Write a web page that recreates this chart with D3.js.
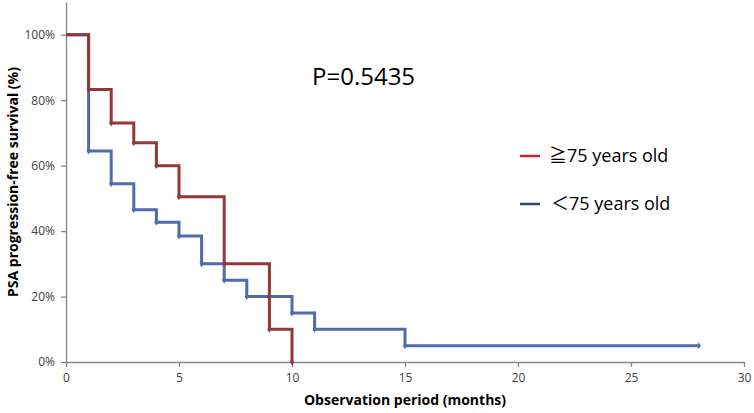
<!DOCTYPE html>
<html><head><meta charset="utf-8">
<script src="https://cdn.jsdelivr.net/npm/d3@7"></script>
<style>body{margin:0;background:#fff}svg{display:block}</style>
</head><body>
<svg id="c" width="754" height="413"></svg>
<script>
const xTicks = [0, 5, 10, 15, 20, 25, 30];
const yTicks = [0, 0.2, 0.4, 0.6, 0.8, 1.0];
const seriesSymbols = ["≧", "＜"];
const seriesNames = ["75 years old", "75 years old"];
// step points: [month, survival]
const oldTimes = [0, 1, 2, 3, 4, 5, 7, 9, 10];
const oldSurv  = [1.0, 0.833, 0.73, 0.67, 0.60, 0.505, 0.30, 0.10, 0.0];
const youngTimes = [0, 1, 2, 3, 4, 5, 6, 7, 8, 10, 11, 15, 28];
const youngSurv  = [1.0, 0.645, 0.545, 0.465, 0.427, 0.385, 0.30, 0.25, 0.20, 0.15, 0.10, 0.05, 0.05];
const pText = "P=0.5435";

const svg = d3.select("#c");
const m = {l: 66, r: 744, t: 2, b: 362};
const x = d3.scaleLinear().domain([0, 30]).range([m.l, m.r]);
const y = d3.scaleLinear().domain([0, 1.1]).range([m.b, m.t]);
const font = "'Open Sans', 'Liberation Sans', sans-serif";
const cjk = "'Noto Sans CJK JP', sans-serif";
const axisColor = "#868686";

// axes
const gx = svg.append("g").attr("transform", `translate(0,${m.b})`)
  .call(d3.axisBottom(x).tickValues(xTicks).tickSize(5).tickSizeOuter(0).tickPadding(6));
const gy = svg.append("g").attr("transform", `translate(${m.l},0)`)
  .call(d3.axisLeft(y).tickValues(yTicks).tickSize(5).tickSizeOuter(0).tickPadding(6)
    .tickFormat(d => Math.round(d * 100) + "%"));
[gx, gy].forEach(g => {
  g.select(".domain").attr("stroke", axisColor).attr("stroke-width", 1.3);
  g.selectAll(".tick line").attr("stroke", axisColor).attr("stroke-width", 1.3);
  g.selectAll(".tick text").attr("fill", "#404040").style("font-family", font).style("font-size", "12px");
});

function toPts(ts, ss) { return ts.map((t, i) => [t, ss[i]]); }
const line = d3.line().x(d => x(d[0])).y(d => y(d[1])).curve(d3.curveStepAfter);

const series = [
  {pts: toPts(youngTimes, youngSurv), color: "#4F6BAE"},
  {pts: toPts(oldTimes, oldSurv), color: "#953735"}
];
series.forEach(s => {
  svg.append("path").attr("d", line(s.pts)).attr("fill", "none")
    .attr("stroke", s.color).attr("stroke-width", 3);
  svg.selectAll(null).data(s.pts.slice(1)).enter().append("path")
    .attr("transform", d => `translate(${x(d[0])},${y(d[1])})`)
    .attr("d", d3.symbol(d3.symbolDiamond, 14))
    .attr("fill", s.color);
});

// P value
svg.append("text").attr("x", 312).attr("y", 85).text(pText)
  .style("font-family", font).style("font-size", "24px").attr("fill", "#000");

// legend
const legColors = ["#C0262D", "#2E4374"];
seriesNames.forEach((n, i) => {
  const ly = 156 + i * 48;
  svg.append("line").attr("x1", 520).attr("x2", 540).attr("y1", ly).attr("y2", ly)
    .attr("stroke", legColors[i]).attr("stroke-width", 2.5);
  const t = svg.append("text").attr("x", i === 0 ? 549 : 551).attr("y", ly + 6)
    .style("font-size", "18px").attr("fill", "#000");
  t.append("tspan").text(seriesSymbols[i]).style("font-family", cjk);
  t.append("tspan").text(n).style("font-family", font);
});

// axis titles
svg.append("text").attr("x", (m.l + m.r) / 2).attr("y", 405).attr("text-anchor", "middle")
  .text("Observation period (months)").style("font-family", font).style("font-weight", "bold")
  .style("font-size", "14px").attr("fill", "#000");
svg.append("text").attr("transform", `translate(18,182) rotate(-90)`)
  .attr("text-anchor", "middle").text("PSA progression-free survival (%)")
  .style("font-family", font).style("font-weight", "bold").style("font-size", "14px").attr("fill", "#000");
</script>
</body></html>
